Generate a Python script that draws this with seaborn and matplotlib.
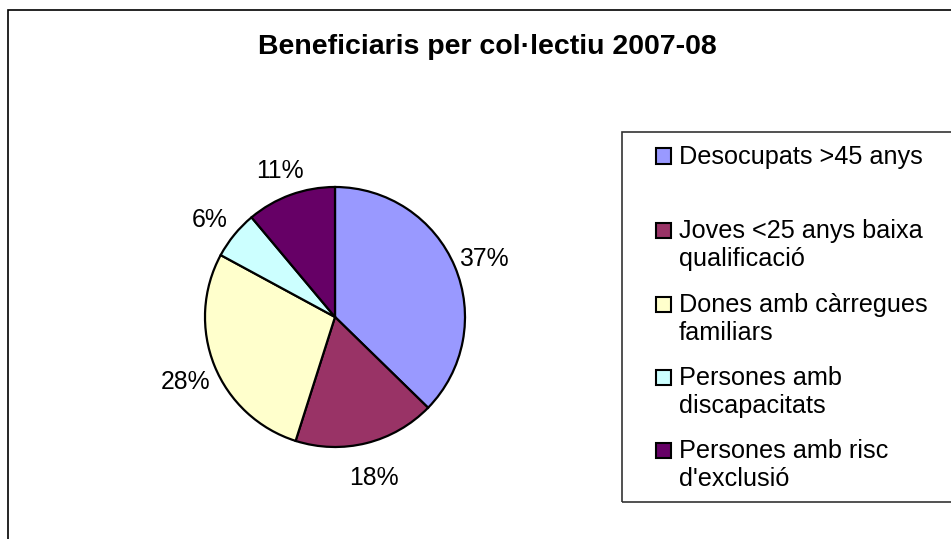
import matplotlib
matplotlib.use("Agg")
import matplotlib.pyplot as plt
import seaborn as sns
from matplotlib.patches import Rectangle

# data
categories = ["Desocupats >45 anys", "Joves <25 anys baixa\nqualificació",
              "Dones amb càrregues\nfamiliars", "Persones amb\ndiscapacitats",
              "Persones amb risc\nd'exclusió"]
shares = [37.3, 17.6, 28.0, 6.0, 11.1]
colors = ["#9999FF", "#993366", "#FFFFCC", "#CCFFFF", "#660066"]
title = "Beneficiaris per col·lectiu 2007-08"

sns.set_theme(style="white")
plt.rcParams["font.family"] = ["Liberation Sans", "DejaVu Sans"]
plt.rcParams["text.color"] = "black"

W, H = 951, 539
fig = plt.figure(figsize=(W / 100, H / 100), dpi=100)

# pie axes: center (335, 317) px, radius 130 px
r = 130
cx, cy = 335, 317
half = r * 1.25
ax = fig.add_axes([(cx - half) / W, (H - cy - half) / H, 2 * half / W, 2 * half / H])
wedges, texts, autotexts = ax.pie(
    shares, colors=colors, startangle=90, counterclock=False,
    autopct="%1.0f%%", pctdistance=1.24,
    wedgeprops=dict(edgecolor="black", linewidth=1.6),
    textprops=dict(fontsize=17.8, color="black"))
# Excel puts the labels a touch lower
for t in autotexts:
    x, y = t.get_position()
    t.set_position((x, y - 5 / r))
ax.set_xlim(-1.25, 1.25)
ax.set_ylim(-1.25, 1.25)
ax.set_aspect("equal")
ax.axis("off")

# title
fig.text(487 / W, 1 - 47 / H, title, ha="center", va="center",
         fontsize=20.5, fontweight="bold", color="black")

# outer chart frame (top and left edges visible)
fig.add_artist(Rectangle((8 / W, -0.1), 1.2, 1 - 9.5 / H + 0.1, transform=fig.transFigure,
                         fill=False, edgecolor="black", linewidth=1.2))

# legend box
fig.add_artist(Rectangle((622 / W, 1 - 502 / H), 1.0, (502 - 132) / H,
                         transform=fig.transFigure, fill=False,
                         edgecolor="#333333", linewidth=1.2))
entry_y = [156, 230, 304, 377, 450]
for lab, col, yy in zip(categories, colors, entry_y):
    fig.add_artist(Rectangle((656 / W, 1 - (yy + 7.5) / H), 15 / W, 15 / H,
                             transform=fig.transFigure, facecolor=col,
                             edgecolor="black", linewidth=1.5))
    fig.text(679 / W, 1 - (yy - 11) / H, lab, ha="left", va="top",
             fontsize=18.2, linespacing=1.2, color="black")

fig.savefig("out.png", dpi=100)
